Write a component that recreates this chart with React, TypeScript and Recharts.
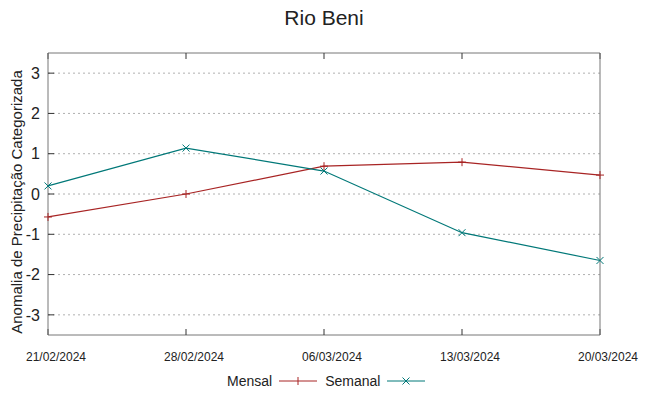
import { LineChart, Line, XAxis, YAxis, CartesianGrid } from "recharts"

// values
const dates = ["21/02/2024", "28/02/2024", "06/03/2024", "13/03/2024", "20/03/2024"]
const mensal = [-0.57, 0.0, 0.69, 0.79, 0.47]
const semanal = [0.2, 1.14, 0.57, -0.96, -1.65]
const yTicks = [-3, -2, -1, 0, 1, 2, 3]

const data = dates.map((date, i) => ({
  date,
  mensal: mensal[i],
  semanal: semanal[i],
}))

const RED = "#a82424"
const TEAL = "#007878"
const FRAME = "#777777"
const FONT = "'Liberation Sans', Arial, sans-serif"

const PlusDot = (props: any) => {
  const { cx, cy } = props
  if (cx == null || cy == null) return <g />
  return (
    <g stroke={RED} strokeWidth={1}>
      <line x1={cx - 4} x2={cx + 4} y1={cy} y2={cy} />
      <line x1={cx} x2={cx} y1={cy - 4} y2={cy + 4} />
    </g>
  )
}

const CrossDot = (props: any) => {
  const { cx, cy } = props
  if (cx == null || cy == null) return <g />
  return (
    <g stroke={TEAL} strokeWidth={1}>
      <line x1={cx - 3.5} x2={cx + 3.5} y1={cy - 3.5} y2={cy + 3.5} />
      <line x1={cx - 3.5} x2={cx + 3.5} y1={cy + 3.5} y2={cy - 3.5} />
    </g>
  )
}

const noLabel = () => <g />

function LegendItem({ label, color, cross }: { label: string; color: string; cross: boolean }) {
  return (
    <div style={{ display: "flex", alignItems: "center" }}>
      <span>{label}</span>
      <svg width={38} height={12} style={{ marginLeft: 7 }}>
        <line x1={0} x2={38} y1={6} y2={6} stroke={color} />
        {cross ? (
          <g stroke={color}>
            <line x1={15.5} x2={22.5} y1={2.5} y2={9.5} />
            <line x1={15.5} x2={22.5} y1={9.5} y2={2.5} />
          </g>
        ) : (
          <g stroke={color}>
            <line x1={19} x2={19} y1={2} y2={10} />
          </g>
        )}
      </svg>
    </div>
  )
}

export default function App() {
  return (
    <div
      style={{
        position: "absolute",
        left: 0,
        top: 0,
        width: 648,
        height: 396,
        background: "#fff",
        fontFamily: FONT,
        color: "#222",
      }}
    >
      <div
        style={{
          position: "absolute",
          left: 0,
          top: 5,
          width: 648,
          textAlign: "center",
          fontSize: 21,
          lineHeight: "26px",
        }}
      >
        Rio Beni
      </div>
      <div
        style={{
          position: "absolute",
          left: 17 - 160,
          top: 202 - 10,
          width: 320,
          height: 20,
          lineHeight: "20px",
          textAlign: "center",
          fontSize: 15,
          transform: "rotate(-90deg)",
        }}
      >
        Anomalia de Precipitação Categorizada
      </div>

      <LineChart
        width={648}
        height={396}
        data={data}
        margin={{ top: 52, right: 47, left: 8, bottom: 21 }}
      >
        <CartesianGrid
          xAxisId="bottom"
          yAxisId="left"
          vertical={false}
          horizontalValues={yTicks}
          stroke="#b0b0b0"
          strokeDasharray="2 3"
        />
        <XAxis
          dataKey="date"
          xAxisId="bottom"
          orientation="bottom"
          height={40}
          interval={0}
          stroke={FRAME}
          tickSize={-6}
          tickMargin={23}
          tick={{ fontSize: 12, fill: "#222", fontFamily: FONT, dx: 8 }}
          tickLine={{ stroke: "#333" }}
        />
        <XAxis
          dataKey="date"
          xAxisId="top"
          orientation="top"
          height={1}
          interval={0}
          stroke={FRAME}
          tickSize={-6}
          tick={noLabel}
          tickLine={{ stroke: "#333" }}
        />
        <YAxis
          yAxisId="left"
          width={40}
          domain={[-3.5, 3.5]}
          ticks={yTicks}
          stroke={FRAME}
          tickSize={-6}
          tickMargin={14}
          tick={{ fontSize: 16, fill: "#222", fontFamily: FONT }}
          tickLine={{ stroke: "#333" }}
        />
        <YAxis
          yAxisId="right"
          orientation="right"
          width={1}
          domain={[-3.5, 3.5]}
          ticks={yTicks}
          stroke={FRAME}
          tickSize={-6}
          tick={noLabel}
          tickLine={{ stroke: "#333" }}
        />
        <Line
          xAxisId="bottom"
          yAxisId="left"
          type="linear"
          dataKey="mensal"
          stroke={RED}
          strokeWidth={1.2}
          dot={<PlusDot />}
          activeDot={false}
          isAnimationActive={false}
        />
        <Line
          xAxisId="bottom"
          yAxisId="left"
          type="linear"
          dataKey="semanal"
          stroke={TEAL}
          strokeWidth={1.2}
          dot={<CrossDot />}
          activeDot={false}
          isAnimationActive={false}
        />
      </LineChart>

      <div
        style={{
          position: "absolute",
          left: 227,
          top: 372,
          display: "flex",
          gap: 8,
          fontSize: 14,
          lineHeight: "18px",
        }}
      >
        <LegendItem label="Mensal" color={RED} cross={false} />
        <LegendItem label="Semanal" color={TEAL} cross={true} />
      </div>
    </div>
  )
}
